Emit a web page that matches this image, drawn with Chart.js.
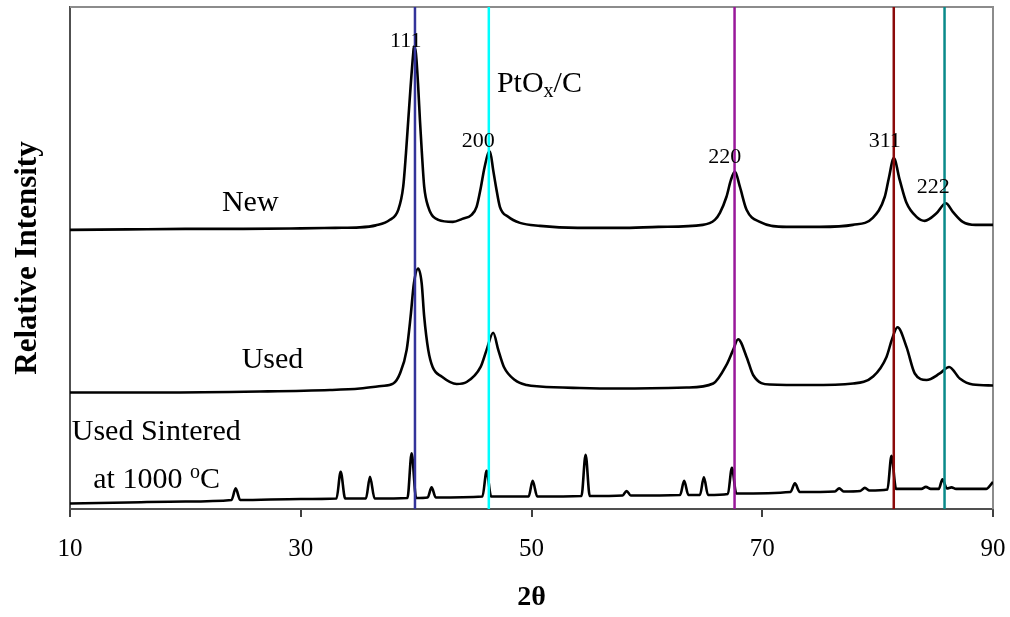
<!DOCTYPE html>
<html>
<head>
<meta charset="utf-8">
<title>PtOx/C XRD</title>
<script src="https://cdn.jsdelivr.net/npm/chart.js@4.4.1/dist/chart.umd.min.js"></script>
<style>
  html, body { margin: 0; padding: 0; background: #fff; }
</style>
</head>
<body>
<canvas id="xrd" width="1010" height="617"></canvas>
<script>
  const SERIF = '"Liberation Serif", "Times New Roman", serif';

  // x axis ticks (2 theta, degrees)
  const xTicks = [10, 30, 50, 70, 90];

  // Pt reflections marked with vertical lines
  const refTheta = [39.9, 46.3, 67.6, 81.4, 85.8];
  const refColors = ["#33339a", "#00ffff", "#99189a", "#8b0a0a", "#0a8a8a"];
  const hklLabels = ["111", "200", "220", "311", "222"];

  // fresh catalyst
  const newTheta = [10.0, 15.0, 20.0, 25.0, 30.0, 33.0, 35.1, 36.5, 37.73, 38.45, 38.88, 39.12, 39.32, 39.52, 39.75, 39.81,
    39.98, 40.18, 40.33, 40.5, 40.7, 41.05, 41.92, 43.19, 44.0, 44.81, 45.24, 45.62, 45.88, 46.25, 46.4, 46.68, 46.92,
    47.26, 47.98, 49.0, 50.73, 54.0, 57.66, 61.0, 64.85, 65.89, 66.33, 66.9, 67.28, 67.63, 68.06, 68.64, 69.79, 72.1,
    75.0, 77.85, 79.58, 80.62, 80.97, 81.4, 81.92, 82.5, 83.37, 84.09, 85.1, 85.91, 86.52, 87.38, 88.5, 90.0];
  const newIntensity = [55.6, 55.7, 55.8, 55.8, 55.9, 56.0, 56.1, 56.5, 57.6, 59.6, 64.2, 70.9, 77.5, 84.1, 90.8, 92.1,
    90.8, 84.1, 77.5, 70.9, 64.2, 60.2, 57.6, 57.2, 57.8, 58.6, 60.2, 64.2, 67.5, 70.9, 71.2, 67.5, 64.2,
    60.2, 58.2, 57.0, 56.4, 56.0, 56.0, 56.2, 56.6, 57.6, 59.0, 62.2, 65.5, 67.2, 64.2, 59.6, 57.2, 56.2,
    56.2, 56.6, 58.0, 62.2, 65.9, 69.9, 65.5, 61.0, 58.2, 57.4, 58.9, 60.9, 59.2, 57.2, 56.6, 56.6];

  // used catalyst
  const usedTheta = [10.0, 17.8, 26.46, 32.53, 35.13, 37.0, 38.02, 38.6, 39.18, 39.52, 39.81, 40.18, 40.48, 40.7, 41.05,
    41.43, 42.21, 43.51, 44.38, 45.59, 46.11, 46.68, 47.12, 47.61, 48.56, 49.58, 50.73, 54.19, 57.66, 63.44, 65.75,
    66.9, 67.48, 67.91, 68.64, 69.21, 70.66, 74.12, 77.88, 79.61, 80.77, 81.23, 81.72, 82.5, 83.22, 84.24, 85.39,
    86.2, 87.12, 88.25, 90.0];
  const usedIntensity = [23.2, 23.2, 23.4, 23.7, 24.0, 24.5, 25.0, 27.0, 31.7, 38.3, 45.0, 47.9, 45.0, 38.3, 31.7,
    28.3, 26.4, 24.9, 25.3, 28.3, 31.7, 35.1, 31.7, 28.3, 25.7, 24.7, 24.4, 24.1, 24.0, 24.2, 25.0,
    28.7, 31.7, 33.8, 30.3, 26.7, 24.8, 24.7, 25.0, 26.4, 30.3, 33.7, 36.2, 32.3, 27.0, 25.7, 27.0,
    28.3, 26.0, 24.8, 24.6];

  // used catalyst after sintering at 1000 C
  const sinteredTheta = [10.0, 15.0, 20.0, 24.0, 24.36, 24.75, 30.0, 33.1, 33.46, 33.85, 35.65, 36.0, 36.4, 39.25, 39.61,
    40.0, 41.0, 41.34, 41.7, 45.75, 46.11, 46.5, 49.75, 50.1, 50.5, 54.33, 54.69, 55.05, 57.9, 58.24, 58.6, 62.88,
    63.23, 63.6, 64.6, 64.94, 65.3, 67.02, 67.37, 67.75, 72.45, 72.83, 73.25, 76.3, 76.67, 77.05, 78.5, 78.89, 79.3,
    80.85, 81.2, 81.6, 83.8, 84.18, 84.6, 85.3, 85.62, 86.0, 86.4, 86.8, 89.4, 90.0];
  const sinteredIntensity = [1.1, 1.3, 1.5, 1.8, 4.1, 1.8, 2.0, 2.1, 7.4, 2.1, 2.1, 6.4, 2.1, 2.2, 11.1,
    2.2, 2.3, 4.3, 2.3, 2.5, 7.6, 2.5, 2.5, 5.6, 2.5, 2.6, 10.8, 2.6, 2.7, 3.6, 2.7, 2.8,
    5.6, 2.8, 2.8, 6.3, 2.8, 3.0, 8.2, 3.1, 3.4, 5.1, 3.4, 3.5, 4.1, 3.5, 3.6, 4.2, 3.7,
    3.9, 10.6, 4.0, 4.0, 4.4, 4.0, 4.0, 5.9, 4.1, 4.3, 4.0, 4.0, 5.4];

  const Y_MIN = 0, Y_MAX = 100;

  const toPoints = (xs, ys) => xs.map((x, i) => ({ x, y: ys[i] }));

  const traceStyle = {
    borderColor: "#000",
    borderWidth: 2.6,
    pointRadius: 0,
    cubicInterpolationMode: "monotone",
    borderJoinStyle: "round",
    fill: false
  };

  // reference lines go first so they are painted over the patterns
  const datasets = refTheta.map((t, i) => ({
    label: hklLabels[i],
    data: [{ x: t, y: Y_MIN }, { x: t, y: Y_MAX }],
    borderColor: refColors[i],
    borderWidth: 2.5,
    pointRadius: 0,
    fill: false
  })).concat([
    { label: "New", data: toPoints(newTheta, newIntensity), ...traceStyle },
    { label: "Used", data: toPoints(usedTheta, usedIntensity), ...traceStyle },
    { label: "Used Sintered", data: toPoints(sinteredTheta, sinteredIntensity), ...traceStyle }
  ]);

  // text placed in data coordinates: [2theta, intensity] at the text baseline
  const hklAt = [[39.1, 92.1], [45.38, 72.2], [66.76, 68.9], [80.62, 72.2], [84.83, 62.9]];

  const frameAndText = {
    id: "frameAndText",
    beforeDatasetsDraw(chart) {
      const { ctx, chartArea: a } = chart;
      ctx.save();
      ctx.strokeStyle = "#8c8c8c";
      ctx.lineWidth = 2;
      ctx.beginPath();
      ctx.moveTo(a.left, a.top);
      ctx.lineTo(a.right, a.top);
      ctx.lineTo(a.right, a.bottom);
      ctx.stroke();
      ctx.restore();
    },
    afterDatasetsDraw(chart) {
      const { ctx, scales: { x, y } } = chart;
      const px = (v) => x.getPixelForValue(v);
      const py = (v) => y.getPixelForValue(v);
      ctx.save();
      ctx.fillStyle = "#000";
      ctx.textBaseline = "alphabetic";

      // Miller indices
      ctx.font = `22px ${SERIF}`;
      ctx.textAlign = "center";
      hklLabels.forEach((txt, i) => ctx.fillText(txt, px(hklAt[i][0]), py(hklAt[i][1])));

      ctx.textAlign = "left";
      const big = `30px ${SERIF}`;
      const small = `20px ${SERIF}`;

      // draws runs of text one after another; each run: [text, font, baseline shift]
      const runs = (parts, x0, y0) => {
        let cx = x0;
        parts.forEach(([txt, font, dy]) => {
          ctx.font = font;
          ctx.fillText(txt, cx, y0 + dy);
          cx += ctx.measureText(txt).width;
        });
      };

      runs([["PtO", big, 0], ["x", small, 5], ["/C", big, 0]], px(47.0), py(83.1));
      runs([["New", big, 0]], px(23.17), py(59.4));
      runs([["Used", big, 0]], px(24.88), py(28.0));
      runs([["Used Sintered", big, 0]], px(10.15), py(13.7));
      runs([["at 1000 ", big, 0], ["o", small, -10], ["C", big, 0]], px(12.02), py(4.1));
      ctx.restore();
    }
  };

  new Chart(document.getElementById("xrd"), {
    type: "line",
    data: { datasets },
    plugins: [frameAndText],
    options: {
      responsive: false,
      animation: false,
      devicePixelRatio: 1,
      layout: { padding: { top: 7, right: 17, left: 0, bottom: 0 } },
      plugins: { legend: { display: false }, tooltip: { enabled: false } },
      elements: { point: { radius: 0 } },
      scales: {
        x: {
          type: "linear",
          min: 10,
          max: 90,
          afterBuildTicks: (axis) => { axis.ticks = xTicks.map((v) => ({ value: v })); },
          afterFit: (axis) => {
            axis.height = 108;
            axis.paddingLeft = 0;
            axis.paddingRight = 0;
          },
          grid: { drawOnChartArea: false, drawTicks: true, tickLength: 8, color: "#404040", lineWidth: 2 },
          border: { color: "#505050", width: 2 },
          ticks: { color: "#000", padding: 17, maxRotation: 0, font: { family: SERIF, size: 25 } },
          title: {
            display: true,
            text: "2θ",
            color: "#000",
            font: { family: SERIF, size: 28, weight: "bold" },
            padding: { top: 0, bottom: 2 }
          }
        },
        y: {
          min: Y_MIN,
          max: Y_MAX,
          afterFit: (axis) => { axis.width = 70; },
          grid: { drawOnChartArea: false, drawTicks: false },
          border: { color: "#505050", width: 2 },
          ticks: { display: false },
          title: {
            display: true,
            text: "Relative Intensity",
            color: "#000",
            font: { family: SERIF, size: 31, weight: "bold" },
            padding: { top: 9, bottom: 0 }
          }
        }
      }
    }
  });
</script>
</body>
</html>
